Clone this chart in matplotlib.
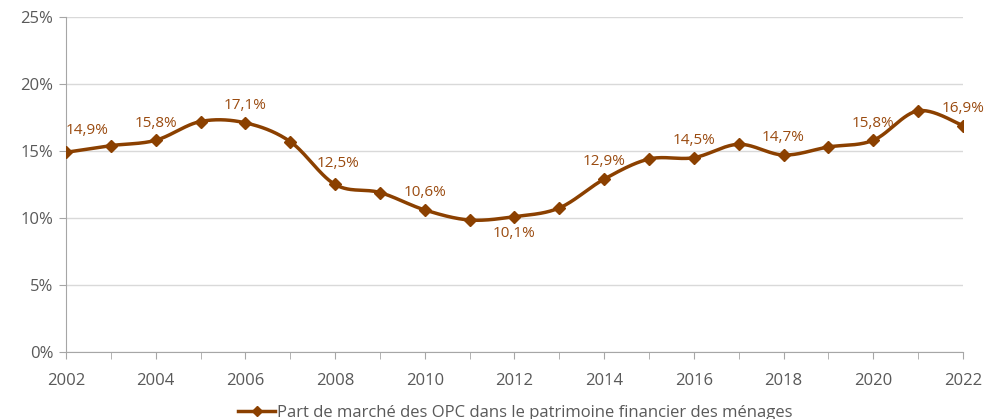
import numpy as np
import matplotlib.pyplot as plt
from matplotlib.lines import Line2D

plt.rcParams['font.family'] = ['Open Sans', 'DejaVu Sans']

years = list(range(2002, 2023))
part_opc = [14.9, 15.4, 15.8, 17.2, 17.1, 15.7, 12.5, 11.9, 10.6, 9.85, 10.1,
            10.75, 12.9, 14.4, 14.5, 15.5, 14.7, 15.3, 15.8, 18.0, 16.9]
# annotated points: year -> (text, position)
labels = {2002: ("14,9%", "ur"), 2004: ("15,8%", "u"), 2006: ("17,1%", "u"),
          2008: ("12,5%", "ur"), 2010: ("10,6%", "u"), 2012: ("10,1%", "d"),
          2014: ("12,9%", "u"), 2016: ("14,5%", "u"), 2018: ("14,7%", "u"),
          2020: ("15,8%", "u"), 2022: ("16,9%", "u")}

col = '#8B4000'
lab_col = '#9A4B10'
grey = '#595959'


def smooth(x, y, n=30):
    # catmull-rom style bezier, like excel's smoothed line
    x = np.asarray(x, float)
    y = np.asarray(y, float)
    px = np.concatenate([[x[0]], x, [x[-1]]])
    py = np.concatenate([[y[0]], y, [y[-1]]])
    xs, ys = [], []
    t = np.linspace(0, 1, n)
    for i in range(1, len(px) - 2):
        p0 = np.array([px[i], py[i]])
        p3 = np.array([px[i + 1], py[i + 1]])
        c1 = p0 + (np.array([px[i + 1], py[i + 1]]) - np.array([px[i - 1], py[i - 1]])) / 6
        c2 = p3 - (np.array([px[i + 2], py[i + 2]]) - np.array([px[i], py[i]])) / 6
        b = ((1 - t) ** 3)[:, None] * p0 + (3 * (1 - t) ** 2 * t)[:, None] * c1 \
            + (3 * (1 - t) * t ** 2)[:, None] * c2 + (t ** 3)[:, None] * p3
        xs.extend(b[:, 0])
        ys.extend(b[:, 1])
    return xs, ys


fig = plt.figure(figsize=(9.95, 4.19), dpi=100)
ax = fig.add_axes([0.0663, 0.16, 0.9015, 0.7994])

sx, sy = smooth(years, part_opc)
ax.plot(sx, sy, color=col, lw=2.5, zorder=3, solid_capstyle='round')
ax.plot(years, part_opc, ls='none', marker='D', ms=6.5, color=col, zorder=4)

for yr, (txt, pos) in labels.items():
    v = part_opc[years.index(yr)]
    if pos == "u":
        ax.annotate(txt, (yr, v), xytext=(0, 7), textcoords='offset points',
                    ha='center', va='bottom', color=lab_col, fontsize=11)
    elif pos == "ur":
        ax.annotate(txt, (yr, v), xytext=(2 if yr > 2002 else 0, 10), textcoords='offset points',
                    ha='center' if yr > 2002 else 'left', va='bottom', color=lab_col, fontsize=11)
    else:
        ax.annotate(txt, (yr, v), xytext=(0, -7), textcoords='offset points',
                    ha='center', va='top', color=lab_col, fontsize=11)

ax.set_xlim(2002, 2022)
ax.set_ylim(0, 25)
ax.set_xticks(years, minor=True)
ax.set_xticks(range(2002, 2023, 2))
ax.set_yticks(range(0, 26, 5))
ax.set_yticklabels([f"{v}%" for v in range(0, 26, 5)])
ax.yaxis.grid(True, color='#D9D9D9', lw=1)
ax.set_axisbelow(True)
for s in ['top', 'right']:
    ax.spines[s].set_visible(False)
for s in ['left', 'bottom']:
    ax.spines[s].set_color('#A6A6A6')
ax.tick_params(axis='x', which='both', direction='out', length=5, color='#A6A6A6')
ax.tick_params(axis='x', which='major', pad=10)
ax.tick_params(axis='y', direction='out', length=5, color='#A6A6A6', pad=4)
ax.tick_params(labelsize=12, labelcolor=grey)

h = Line2D([], [], color=col, lw=2.5, marker='D', ms=5)
fig.legend([h], ["Part de marché des OPC dans le patrimoine financier des ménages"],
           loc='lower center', bbox_to_anchor=(0.518, -0.04), frameon=False,
           fontsize=12, labelcolor=grey, handlelength=2.2, handletextpad=0.1)

fig.savefig('out.png', dpi=100)
